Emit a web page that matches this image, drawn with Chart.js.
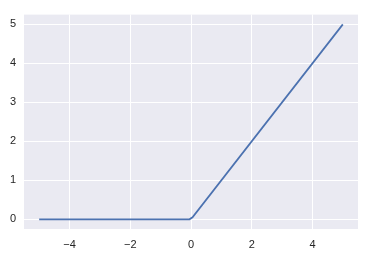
<!DOCTYPE html>
<html><head><meta charset="utf-8">
<script src="https://cdn.jsdelivr.net/npm/chart.js@4"></script>
<style>html,body{margin:0;padding:0;background:#fff}#c{display:block}</style>
</head><body>
<canvas id="c" width="370" height="257"></canvas>
<script>
const xValues = [-5, -0.0505, 0.0505, 5];
const yValues = [0, 0, 0.0505, 5];
const xTicks = [-4, -2, 0, 2, 4];
const yTicks = [0, 1, 2, 3, 4, 5];
const points = xValues.map((x, i) => ({x: x, y: yValues[i]}));
const bgPlugin = {
  id: 'bg',
  beforeDraw(chart) {
    const {ctx, chartArea: a} = chart;
    ctx.save(); ctx.fillStyle = '#eaeaf2';
    ctx.fillRect(a.left, a.top, a.right - a.left, a.bottom - a.top);
    ctx.restore();
  }
};
const fmt = v => (v < 0 ? '\u2212' + Math.abs(v) : String(v));
new Chart(document.getElementById('c'), {
  type: 'scatter',
  data: {datasets: [{data: points, showLine: true, borderColor: '#4c72b0', borderWidth: 1.75, pointRadius: 0, fill: false, tension: 0}]},
  options: {
    responsive: false, animation: false, devicePixelRatio: 1,
    layout: {padding: {top: 14, right: 12, left: 0, bottom: 0}},
    plugins: {legend: {display: false}, tooltip: {enabled: false}},
    scales: {
      x: {
        type: 'linear', min: -5.5, max: 5.5,
        afterBuildTicks: s => { s.ticks = xTicks.map(v => ({value: v})); },
        afterFit: s => { s.height = 28; },
        grid: {color: '#ffffff', lineWidth: 1, drawTicks: false},
        border: {display: false},
        ticks: {padding: 9, color: '#262626', font: {family: 'Liberation Sans, Arial, sans-serif', size: 11}, callback: fmt, maxRotation: 0}
      },
      y: {
        type: 'linear', min: -0.25, max: 5.25,
        afterBuildTicks: s => { s.ticks = yTicks.map(v => ({value: v})); },
        afterFit: s => { s.width = 24; },
        grid: {color: '#ffffff', lineWidth: 1, drawTicks: false},
        border: {display: false},
        ticks: {padding: 8, color: '#262626', font: {family: 'Liberation Sans, Arial, sans-serif', size: 11}, callback: fmt}
      }
    }
  },
  plugins: [bgPlugin]
});
</script>
</body></html>
